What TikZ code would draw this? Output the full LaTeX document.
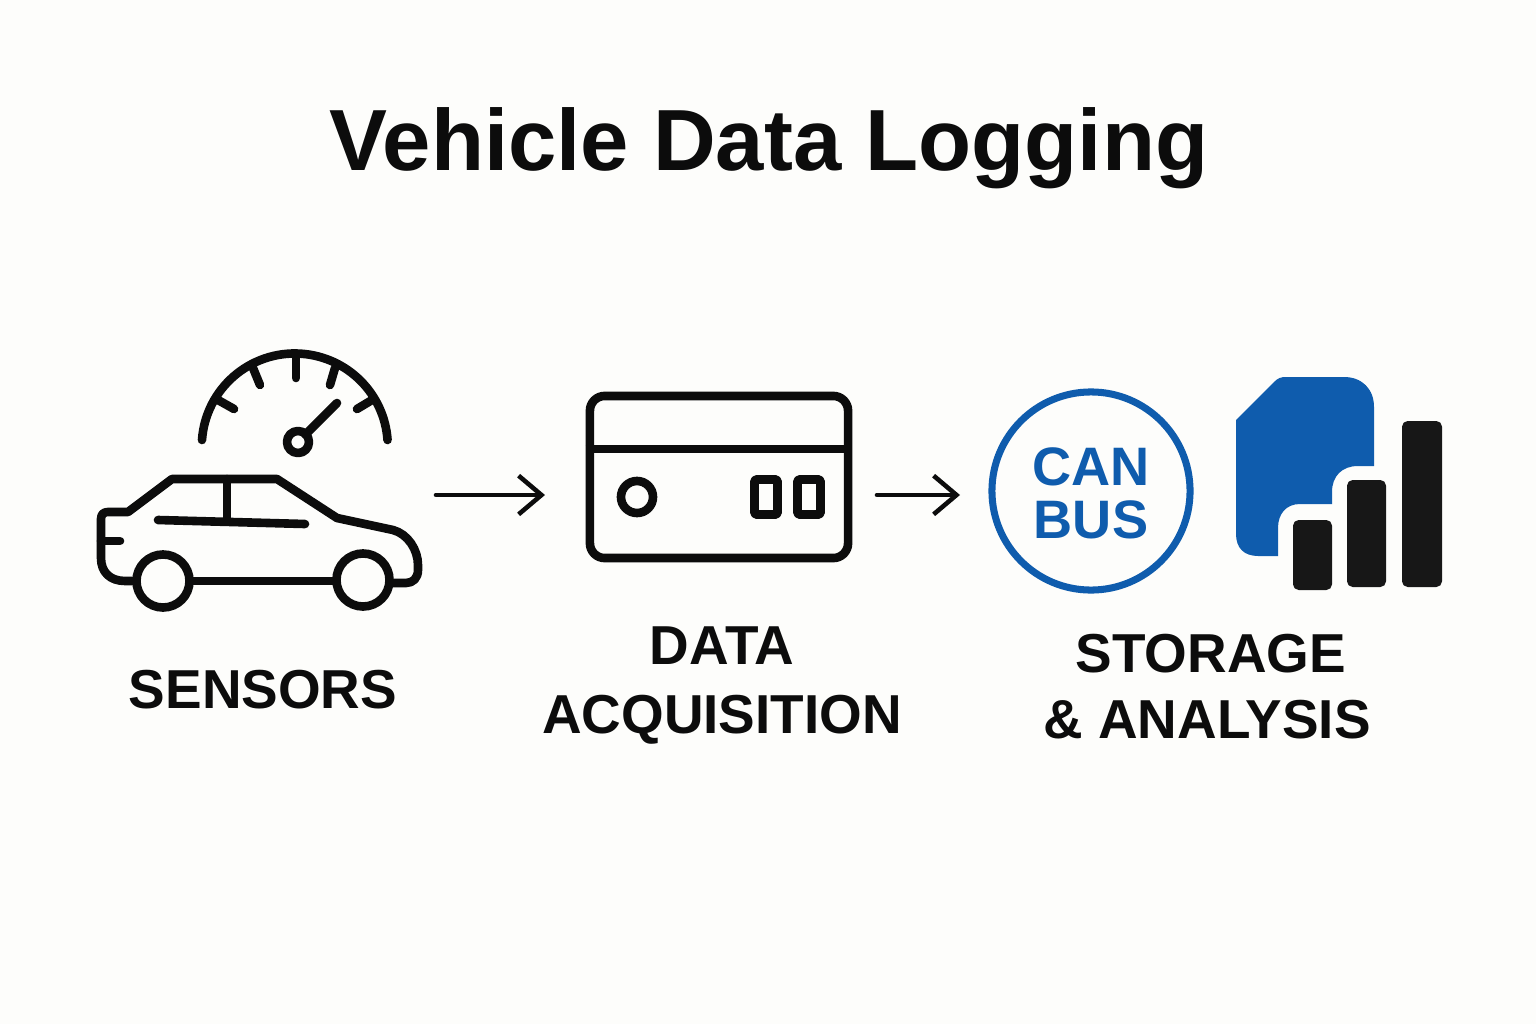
\documentclass[tikz,border=0pt]{standalone}
\usepackage{fontspec}
\setmainfont{Liberation Sans}
\usepackage{tikz}
\usetikzlibrary{arrows.meta}
\definecolor{paper}{HTML}{FDFDFB}
\definecolor{ink}{HTML}{0C0C0C}
\definecolor{canblue}{HTML}{0F5CAD}
\definecolor{barblack}{HTML}{171717}
\tikzset{t/.style={font=\fontsize{24.7}{24.7}\selectfont\bfseries,text=ink}}
\tikzset{l/.style={font=\fontsize{15.6}{15.6}\selectfont\bfseries,text=ink}}
\tikzset{c/.style={font=\fontsize{15.4}{15}\selectfont\bfseries,text=canblue,align=center}}
\tikzset{icon/.style={ink,line width=2.45pt,line cap=round,line join=round}}
\tikzset{flow/.style={ink,line width=1.3pt,line cap=round,-{Straight Barb[length=6.5pt,width=11pt,line width=1.3pt]}}}
\tikzset{bar/.style={fill=barblack,rounded corners=1.6pt}}
\begin{document}
\begin{tikzpicture}[x=0.01cm,y=-0.01cm,line join=round]
  \fill[paper] (0,0) rectangle (1536,1024);
  \useasboundingbox (0,0) rectangle (1536,1024);
  \node[t] (title) at (769,148) {Vehicle Data Logging};
  % gauge
  \draw[icon] (202,440) arc[start angle=184,end angle=356,radius=93];
  \draw[icon] (296,355) -- (296,378);
  \draw[icon] (253,368) -- (260,385);
  \draw[icon] (335,368) -- (330,385);
  \draw[icon] (218,400) -- (234,409);
  \draw[icon] (372,400) -- (357,409);
  \node[icon,draw,circle,inner sep=0pt,minimum size=0.22cm] (hub) at (298,442) {};
  \coordinate (tip) at (337,403);
  \draw[icon] (hub) ++(7.5,-7.5) -- (tip);
  % car
  \node[icon,draw,circle,inner sep=0pt,minimum size=0.53cm] (rear) at (163,581) {};
  \node[icon,draw,circle,inner sep=0pt,minimum size=0.53cm] (front) at (363,580) {};
  \draw[icon] (rear.east) -- (rear.east -| front.west);
  \draw[icon] (rear.west) -- (125,581) .. controls (110,581) and (101,572) .. (101,558) -- (101,519)
    .. controls (101,514) and (104,512) .. (108,512) -- (128,512) -- (172,479) -- (277,479)
    -- (337,518) -- (393,530) .. controls (408,534) and (418,550) .. (418,565) -- (418,570)
    .. controls (418,578) and (413,583) .. (406,583) -- (392,583);
  \draw[icon] (101,541) -- (120,541);
  \draw[icon] (158,520) -- (305,524);
  \draw[icon] (227,479) -- (227,520);
  % acquisition box
  \node[icon,draw,rounded corners=4.2pt,inner sep=0pt,minimum width=2.58cm,minimum height=1.62cm] (card) at (719,477) {};
  \draw[icon,line cap=butt] (card.west |- 0,449) -- (card.east |- 0,449);
  \node[icon,draw,circle,inner sep=0pt,minimum size=0.32cm] (led) at (637,497) {};
  \node[icon,draw,rounded corners=0.4pt,inner sep=0pt,minimum width=0.23cm,minimum height=0.35cm] (portA) at (766,497) {};
  \node[icon,draw,rounded corners=0.4pt,inner sep=0pt,minimum width=0.23cm,minimum height=0.35cm] (portB) at (809,497) {};
  % flow
  \coordinate (carout) at (436,495);
  \coordinate (cardin) at (545,495);
  \coordinate (cardout) at (877,495);
  \coordinate (canin) at (960,495);
  \draw[flow] (carout) -- (cardin);
  \draw[flow] (cardout) -- (canin);
  % storage
  \node[draw=canblue,line width=2pt,circle,inner sep=0pt,minimum size=1.98cm] (can) at (1091,491) {};
  \node[c] (cantext) at (1091,493) {CAN\\BUS};
  \fill[canblue] (1236,420) -- (1274,382) .. controls (1278,378) and (1281,377) .. (1286,377) -- (1344,377)
    .. controls (1362,377) and (1374,389) .. (1374,407) -- (1374,466) -- (1358,466)
    .. controls (1342,466) and (1332,476) .. (1332,492) -- (1332,504) -- (1300,504)
    .. controls (1286,504) and (1278,514) .. (1278,528) -- (1278,556) -- (1258,556)
    .. controls (1244,556) and (1236,548) .. (1236,534) -- cycle;
  \fill[bar] (1293,520) rectangle (1332,590);
  \fill[bar] (1347,480) rectangle (1386,587);
  \fill[bar] (1402,421) rectangle (1442,587);
  % labels
  \node[l] (sensors) at (263,690) {SENSORS};
  \node[l] (data) at (722,646) {DATA};
  \node[l] (acq) at (722,720) {ACQUISITION};
  \node[l] (store) at (1211,654) {STORAGE};
  \node[l] (analysis) at (1207,720) {\& ANALYSIS};
\end{tikzpicture}
\end{document}
